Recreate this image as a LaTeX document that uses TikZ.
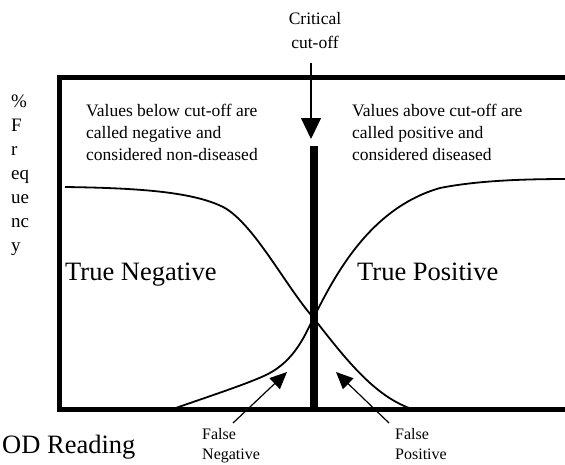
\documentclass[tikz,border=0pt]{standalone}
\usepackage{fontspec}
\setmainfont{Liberation Serif}
\usetikzlibrary{arrows.meta}
\begin{document}
\begin{tikzpicture}[x=1pt,y=-1pt,
  frame/.style={line width=5pt},
  curve/.style={line width=1.8pt},
  note/.style={inner sep=0pt,anchor=base west,align=left,font=\fontsize{17.5}{22}\selectfont},
  big/.style={inner sep=0pt,anchor=base west,font=\fontsize{26.5}{28}\selectfont},
  small/.style={inner sep=0pt,anchor=base west,align=left,font=\fontsize{16}{20}\selectfont},
  bigarrow/.style={line width=1.2pt,-{Triangle[length=21pt,width=20pt]}},
  smallarrow/.style={line width=1.2pt,-{Triangle[length=17pt,width=15pt]}}]
\useasboundingbox (0,0) rectangle (565,464);
\clip (0,0) rectangle (565,464);
% frame
\draw[frame] (580,77) -- (59.5,77) -- (59.5,409.5) -- (580,409.5);
% cut-off bar
\fill (310,146) rectangle (317.5,410);
\coordinate (bartop) at (311,139);
% curves
\draw[curve] (65,187) .. controls (140,188) and (195,192) .. (225,208)
  .. controls (255,226) and (285,285) .. (313.5,318)
  .. controls (345,358) and (375,398) .. (415,410);
\draw[curve] (170,410) .. controls (210,396) and (250,383) .. (268,374)
  .. controls (295,360) and (305,335) .. (313.5,318)
  .. controls (335,275) and (370,208) .. (440,188)
  .. controls (480,180) and (530,179) .. (570,179);
% texts (base anchor = baseline of the last line)
\node[inner sep=0pt,align=center,font=\fontsize{17.5}{24}\selectfont,anchor=base] (crit) at (315,48) {Critical\\cut-off};
\draw[bigarrow] (311,63) -- (bartop);
\node[note] (neg) at (86,160) {Values below cut-off are\\called negative and\\considered non-diseased};
\node[note] (pos) at (352,160) {Values above cut-off are\\called positive and\\considered diseased};
\node[inner sep=0pt,anchor=base west,align=left,font=\fontsize{19}{24}\selectfont] (ylab) at (11,251) {\%\\F\\r\\eq\\ue\\nc\\y};
\node[big] (tn) at (65,280) {True Negative};
\node[big] (tp) at (357,280) {True Positive};
\node[big] (od) at (2,453) {OD Reading};
\node[small] (fn) at (202,459) {False\\Negative};
\node[small] (fp) at (395,459) {False\\Positive};
\coordinate (fntip) at (287,372);
\coordinate (fptip) at (336,372);
\draw[smallarrow] (233,423) -- (fntip);
\draw[smallarrow] (389,423) -- (fptip);
\end{tikzpicture}
\end{document}
